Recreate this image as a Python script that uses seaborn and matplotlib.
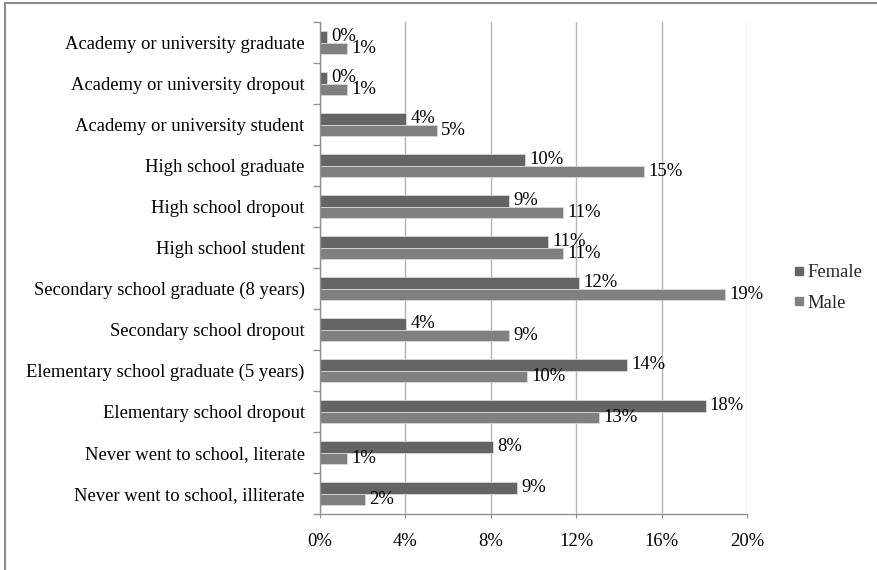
import matplotlib
matplotlib.use("Agg")
import matplotlib.pyplot as plt
import seaborn as sns
import pandas as pd
from matplotlib.ticker import FuncFormatter, FixedLocator
from matplotlib.lines import Line2D

categories = [
    "Academy or university graduate",
    "Academy or university dropout",
    "Academy or university student",
    "High school graduate",
    "High school dropout",
    "High school student",
    "Secondary school graduate (8 years)",
    "Secondary school dropout",
    "Elementary school graduate (5 years)",
    "Elementary school dropout",
    "Never went to school, literate",
    "Never went to school, illiterate",
]
female = [0.34, 0.34, 4.04, 9.6, 8.85, 10.7, 12.15, 4.04, 14.38, 18.06, 8.11, 9.24]
male = [1.27, 1.27, 5.47, 15.18, 11.40, 11.40, 18.98, 8.85, 9.69, 13.09, 1.27, 2.11]
series = ["Female", "Male"]
xticks = [0, 4, 8, 12, 16, 20]

df = pd.DataFrame({
    "category": categories * 2,
    "value": female + male,
    "sex": ["Female"] * len(categories) + ["Male"] * len(categories),
})

sns.set_style("white")
plt.rcParams["font.family"] = ["Liberation Serif", "DejaVu Serif"]
FS = 13.4

fig = plt.figure(figsize=(8.77, 5.70), dpi=100)
ax = fig.add_axes([320 / 877, 1 - 514 / 570, (747 - 320) / 877, (514 - 22) / 570])

palette = {"Female": "#646464", "Male": "#808080"}
sns.barplot(data=df, x="value", y="category", hue="sex", hue_order=series,
            order=categories, orient="h", palette=palette, width=0.56,
            gap=0, ax=ax, edgecolor="#d8d8d8", linewidth=0.6, saturation=1,
            legend=False)

for cont, vals in zip(ax.containers, [female, male]):
    ax.bar_label(cont, labels=[f"{round(v)}%" for v in vals], padding=3,
                 fontsize=FS, color="black")

ax.set_xlim(0, 20)
ax.set_ylim(len(categories) - 0.5, -0.5)
ax.set_xticks(xticks)
ax.xaxis.set_major_formatter(FuncFormatter(lambda v, p: f"{v:.0f}%"))
ax.grid(axis="x", color="#b4b4b4", linewidth=1)
ax.set_axisbelow(True)
ax.set_xlabel("")
ax.set_ylabel("")
for s in ["top", "right"]:
    ax.spines[s].set_visible(False)
for s in ["left", "bottom"]:
    ax.spines[s].set_color("#909090")
    ax.spines[s].set_linewidth(1)

ax.tick_params(axis="x", which="major", length=3, color="#909090", pad=11,
               labelsize=FS, labelcolor="black", bottom=True)
ax.tick_params(axis="y", which="major", length=0, pad=11, labelsize=FS,
               labelcolor="black")
ax.yaxis.set_minor_locator(FixedLocator([i - 0.5 for i in range(len(categories) + 1)]))
ax.tick_params(axis="y", which="minor", length=5, color="#909090", width=1, left=True)

handles = [Line2D([], [], marker="s", linestyle="none", markersize=6,
                  markerfacecolor=palette[s], markeredgecolor=palette[s]) for s in series]
fig.legend(handles, series, loc="center left", bbox_to_anchor=(786 / 877, 1 - 288 / 570),
           frameon=False, fontsize=FS, handlelength=0.6, handletextpad=0.15,
           labelspacing=0.75, borderaxespad=0)

# outer chart border (top and left)
fig.add_artist(Line2D([5 / 877, 1], [1 - 3 / 570, 1 - 3 / 570], transform=fig.transFigure,
                      color="#8c8c8c", linewidth=1.5))
fig.add_artist(Line2D([5 / 877, 5 / 877], [0, 1 - 3 / 570], transform=fig.transFigure,
                      color="#8c8c8c", linewidth=1.5))

fig.savefig("out.png", dpi=100)
